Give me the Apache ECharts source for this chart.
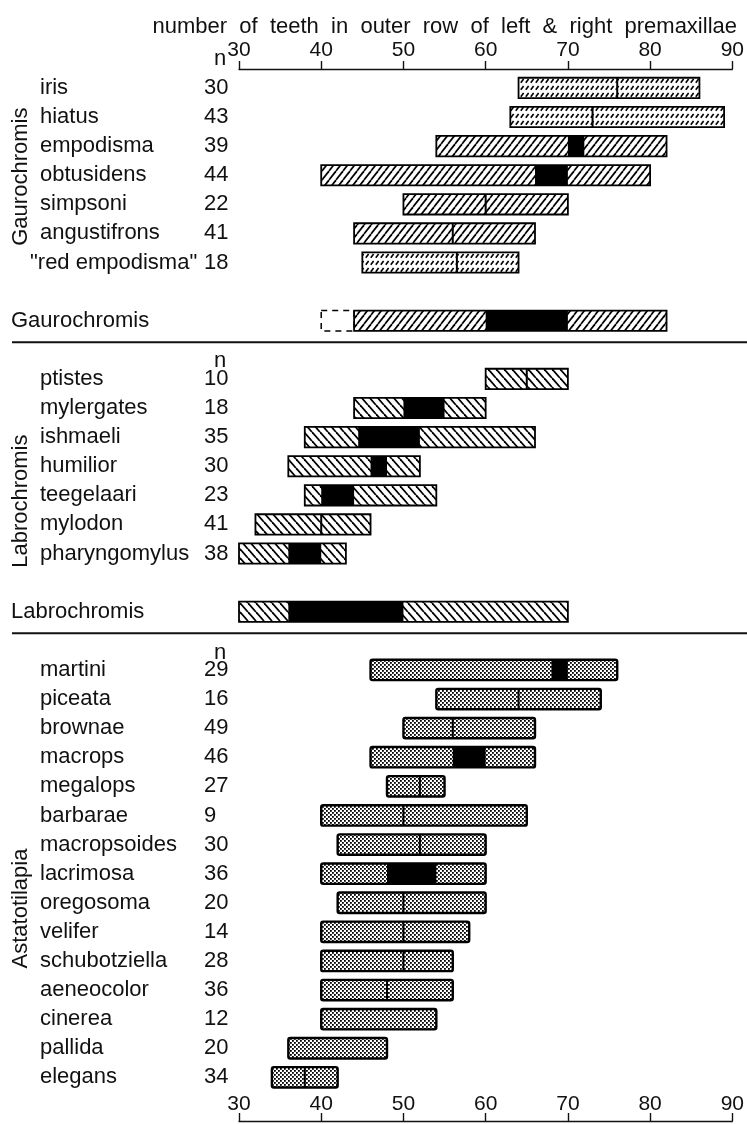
<!DOCTYPE html>
<html>
<head>
<meta charset="utf-8">
<script src="https://cdn.jsdelivr.net/npm/echarts@6.0.0/dist/echarts.min.js"></script>
<style>
  html, body { margin: 0; padding: 0; background: #fff; }
  #chart { width: 747px; height: 1124px; }
</style>
</head>
<body>
<div id="chart"></div>
<script>
// ---------------- DATA ----------------
const chartTitle = 'number of teeth in outer row of left & right premaxillae';
const tickValues = [30, 40, 50, 60, 70, 80, 90];
const nHeader = 'n';

// -1 = not present
const gauroName = 'Gaurochromis';
const gauroSpecies = ['iris', 'hiatus', 'empodisma', 'obtusidens', 'simpsoni', 'angustifrons', '"red empodisma"'];
const gauroN      = [30, 43, 39, 44, 22, 41, 18];
const gauroMin    = [64, 63, 54, 40, 50, 44, 45];
const gauroMax    = [86, 89, 82, 80, 70, 66, 64];
const gauroMedian = [76, 73, -1, -1, 60, 56, 56.5];
const gauroModeLo = [-1, -1, 70, 66, -1, -1, -1];
const gauroModeHi = [-1, -1, 72, 70, -1, -1, -1];
const gauroAllRange = [44, 82];
const gauroAllMode = [60, 70];
const gauroAllDoubtfulLow = 40;

const labroName = 'Labrochromis';
const labroSpecies = ['ptistes', 'mylergates', 'ishmaeli', 'humilior', 'teegelaari', 'mylodon', 'pharyngomylus'];
const labroN      = [10, 18, 35, 30, 23, 41, 38];
const labroMin    = [60, 44, 38, 36, 38, 32, 30];
const labroMax    = [70, 60, 66, 52, 54, 46, 43];
const labroMedian = [65, -1, -1, -1, -1, 40, -1];
const labroModeLo = [-1, 50, 44.5, 46, 40, -1, 36];
const labroModeHi = [-1, 55, 52, 48, 44, -1, 40];
const labroAllRange = [30, 70];
const labroAllMode = [36, 50];

const astaName = 'Astatotilapia';
const astaSpecies = ['martini', 'piceata', 'brownae', 'macrops', 'megalops', 'barbarae', 'macropsoides',
  'lacrimosa', 'oregosoma', 'velifer', 'schubotziella', 'aeneocolor', 'cinerea', 'pallida', 'elegans'];
const astaN      = [29, 16, 49, 46, 27, 9, 30, 36, 20, 14, 28, 36, 12, 20, 34];
const astaMin    = [46, 54, 50, 46, 48, 40, 42, 40, 42, 40, 40, 40, 40, 36, 34];
const astaMax    = [76, 74, 66, 66, 55, 65, 60, 60, 60, 58, 56, 56, 54, 48, 42];
const astaMedian = [-1, 64, 56, -1, 52, 50, 52, -1, 50, 50, 50, 48, -1, -1, 38];
const astaModeLo = [68, -1, -1, 56, -1, -1, -1, 48, -1, -1, -1, -1, -1, -1, -1];
const astaModeHi = [70, -1, -1, 60, -1, -1, -1, 54, -1, -1, -1, -1, -1, -1, -1];

// ---------------- STYLE / LAYOUT ----------------
const FONT = '"Liberation Sans", Arial, Helvetica, sans-serif';
const FS = 22;
const INK = '#111';

function makePattern(kind) {
  const c = document.createElement('canvas');
  let w, h;
  if (kind === 'fwd') { w = 7; h = 9; }
  else if (kind === 'fwdDash') { w = 5; h = 7; }
  else if (kind === 'back') { w = 8; h = 9; }
  else { w = 4; h = 4; }
  c.width = w; c.height = h;
  const g = c.getContext('2d');
  g.fillStyle = '#fff'; g.fillRect(0, 0, w, h);
  g.strokeStyle = '#000'; g.fillStyle = '#000';
  if (kind === 'fwd') {
    g.lineWidth = 1.7;
    for (let k = -1; k <= 1; k++) { g.beginPath(); g.moveTo(k * w, h); g.lineTo(k * w + w, 0); g.stroke(); }
  } else if (kind === 'back') {
    g.lineWidth = 1.8;
    for (let k = -1; k <= 1; k++) { g.beginPath(); g.moveTo(k * w, 0); g.lineTo(k * w + w, h); g.stroke(); }
  } else if (kind === 'fwdDash') {
    g.lineWidth = 1.6;
    g.beginPath(); g.moveTo(0.8, 5.8); g.lineTo(3.6, 2.0); g.stroke();
  } else {
    g.fillStyle = '#000';
    g.fillRect(0, 0, 1.8, 1.8);
    g.fillRect(2, 2, 1.8, 1.8);
  }
  return { image: c, repeat: 'repeat' };
}
const patterns = [makePattern('fwd'), makePattern('fwdDash'), makePattern('back'), makePattern('dots')];
const lightHatch = new Set(['iris', 'hiatus', '"red empodisma"']);

const groups = [
  { name: gauroName, species: gauroSpecies, n: gauroN, min: gauroMin, max: gauroMax, med: gauroMedian,
    mLo: gauroModeLo, mHi: gauroModeHi, allRange: gauroAllRange, allMode: gauroAllMode, allExt: gauroAllDoubtfulLow,
    start: 0, pat: 0, headerOff: -1.0, vOff: 3.05 },
  { name: labroName, species: labroSpecies, n: labroN, min: labroMin, max: labroMax, med: labroMedian,
    mLo: labroModeLo, mHi: labroModeHi, allRange: labroAllRange, allMode: labroAllMode, allExt: -1,
    start: 10, pat: 2, headerOff: -0.63, vOff: 4.2 },
  { name: astaName, species: astaSpecies, n: astaN, min: astaMin, max: astaMax, med: astaMedian,
    mLo: astaModeLo, mHi: astaModeHi, allRange: null,
    start: 20, pat: 3, headerOff: -0.6, vOff: 8.2 }
];

const barData = [];
const labelItems = [];
const sepRows = [];
groups.forEach(gr => {
  gr.species.forEach((sp, i) => {
    const row = gr.start + i;
    const pat = (gr.pat === 0 && lightHatch.has(sp)) ? 1 : gr.pat;
    barData.push([row, gr.min[i], gr.max[i], gr.med[i], gr.mLo[i], gr.mHi[i], pat, -1]);
    labelItems.push({ row, x: sp.charAt(0) === '"' ? 30 : 40, text: sp });
    labelItems.push({ row, x: 204, text: String(gr.n[i]) });
  });
  labelItems.push({ row: gr.start + gr.headerOff, x: gr.start === 0 ? 214 : 214, text: nHeader });
  labelItems.push({ row: gr.start + gr.vOff, x: 21, text: gr.name, rotate: true });
  if (gr.allRange) {
    const row = gr.start + gr.species.length + 1;
    barData.push([row, gr.allRange[0], gr.allRange[1], -1, gr.allMode[0], gr.allMode[1], gr.pat, gr.allExt]);
    labelItems.push({ row, x: 11, text: gr.name });
    sepRows.push(row + 0.74);
  }
});

function renderBar(params, api) {
  const row = api.value(0), lo = api.value(1), hi = api.value(2), med = api.value(3);
  const mLo = api.value(4), mHi = api.value(5), pat = api.value(6), ext = api.value(7);
  const a = api.coord([lo, row]), b = api.coord([hi, row]);
  const h = api.size([0, 1])[1] * 0.70;
  const y0 = a[1] - h / 2;
  const asta = pat === 3;
  const lw = asta ? 2.4 : 1.8;
  const box = { x: a[0], y: y0, width: b[0] - a[0], height: h, r: asta ? 2 : 0 };
  const children = [];
  children.push({ type: 'rect', shape: box, style: { fill: patterns[pat] } });
  if (mLo >= 0) {
    const c = api.coord([mLo, row]), d = api.coord([mHi, row]);
    children.push({ type: 'rect', shape: { x: c[0], y: y0, width: d[0] - c[0], height: h }, style: { fill: '#000' } });
  }
  if (med >= 0) {
    const m = api.coord([med, row]);
    children.push({ type: 'line', shape: { x1: m[0], y1: y0, x2: m[0], y2: y0 + h }, style: { stroke: '#000', lineWidth: 2 } });
  }
  children.push({ type: 'rect', shape: box, style: { fill: 'none', stroke: '#000', lineWidth: lw } });
  if (ext >= 0) {
    const e = api.coord([ext, row]);
    children.push({ type: 'rect', shape: { x: e[0], y: y0, width: a[0] - e[0], height: h },
      style: { fill: 'none', stroke: '#000', lineWidth: 1.5, lineDash: [6, 5] } });
  }
  return { type: 'group', children };
}

function renderLabel(params, api) {
  const item = labelItems[api.value(1)];
  const y = api.coord([tickValues[0], api.value(0)])[1];
  const el = { type: 'text', x: item.x, y: y,
    style: { text: item.text, font: FS + 'px ' + FONT, fill: INK, align: item.rotate ? 'center' : 'left', verticalAlign: 'middle' } };
  if (item.rotate) el.rotation = Math.PI / 2;
  return el;
}

function renderSep(params, api) {
  const y = api.coord([tickValues[0], api.value(0)])[1];
  return { type: 'line', shape: { x1: 12, y1: y, x2: 747, y2: y }, style: { stroke: '#111', lineWidth: 2 } };
}

const axisCommon = {
  type: 'value',
  min: tickValues[0], max: tickValues[tickValues.length - 1],
  interval: tickValues[1] - tickValues[0],
  splitLine: { show: false },
  axisLine: { show: true, onZero: false, lineStyle: { color: INK, width: 1.4 } },
  axisLabel: { color: INK, fontSize: 21, fontFamily: FONT, margin: 8 }
};

const chart = echarts.init(document.getElementById('chart'), null, { renderer: 'canvas' });
chart.setOption({
  animation: false,
  backgroundColor: '#fff',
  title: { text: chartTitle.split(' ').join('  '), right: 5, top: 11,
    textStyle: { fontSize: FS, fontWeight: 'normal', color: INK, fontFamily: FONT } },
  grid: { left: 239, right: 14, top: 69, bottom: 3 },
  xAxis: [
    Object.assign({}, axisCommon, { position: 'top',
      axisTick: { show: true, inside: false, length: 8, lineStyle: { color: INK, width: 1.4 } } }),
    Object.assign({}, axisCommon, { position: 'bottom',
      axisTick: { show: true, inside: true, length: 8, lineStyle: { color: INK, width: 1.4 } },
      axisLabel: { color: INK, fontSize: 21, fontFamily: FONT, margin: 6, inside: true } })
  ],
  yAxis: { type: 'value', inverse: true, min: -0.65, max: 35.5, show: false },
  series: [
    { type: 'custom', name: 'bars', renderItem: renderBar, data: barData, clip: false,
      encode: { x: [1, 2], y: 0 }, silent: true },
    { type: 'custom', name: 'labels', renderItem: renderLabel, clip: false,
      data: labelItems.map((d, i) => [d.row, i]), encode: { y: 0 }, silent: true },
    { type: 'custom', name: 'separators', renderItem: renderSep, clip: false,
      data: sepRows.map(r => [r]), encode: { y: 0 }, silent: true }
  ]
});
</script>
</body>
</html>
